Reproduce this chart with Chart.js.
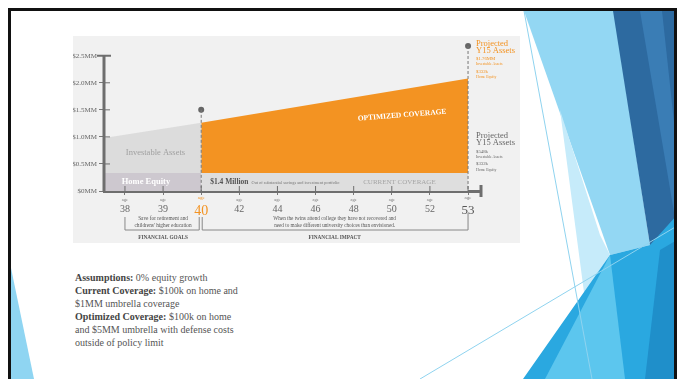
<!DOCTYPE html>
<html>
<head>
<meta charset="utf-8">
<script src="https://cdn.jsdelivr.net/npm/chart.js@4.4.0/dist/chart.umd.min.js"></script>
<style>
  html, body { margin: 0; padding: 0; background: #fff; }
  body { width: 683px; height: 379px; position: relative; overflow: hidden; font-family: "Liberation Serif", serif; }
  #deco { position: absolute; left: 0; top: 0; }
  #frame { position: absolute; left: 8px; top: 8px; width: 669px; height: 400px; border: 3px solid #111; box-sizing: border-box; }
  #panel { position: absolute; left: 73px; top: 36px; width: 447px; height: 207px; background: #f1f1f1; }
  #grafica { position: absolute; left: 73px; top: 36px; }
  #notas { position: absolute; left: 75px; top: 271px; font-size: 10px; line-height: 13px; color: #555; }
  #notas b { color: #444; }
</style>
</head>
<body>
<svg id="deco" width="683" height="379">
  <polygon points="11,268 11,379 34,379" fill="#8fd5f2"/>
  <polygon points="524,11 614,11 650,245 610,255" fill="#93d7f3"/>
  <polygon points="560,110 600,235 610,255 585,300" fill="#c6ebfa"/>
  <polygon points="613,11 677,11 677,300 650,245" fill="#2d6aa0"/>
  <polygon points="640,11 662,11 677,150 677,230" fill="#3a7db5"/>
  <polygon points="523,379 610,255 650,245 677,215 677,379" fill="#2aa8e0"/>
  <polygon points="545,379 610,255 625,379" fill="#5cc6ee"/>
  <polygon points="645,379 660,250 677,240 677,379" fill="#1f8fca"/>
  <line x1="524" y1="11" x2="592" y2="379" stroke="#8fd3ef" stroke-width="1"/>
  <line x1="420" y1="379" x2="677" y2="226" stroke="#8fd3ef" stroke-width="1"/>
</svg>
<div id="frame"></div>
<div id="panel"></div>
<canvas id="grafica" width="447" height="207"></canvas>
<div id="notas">
  <div><b>Assumptions:</b> 0% equity growth</div>
  <div><b>Current Coverage:</b> $100k on home and</div>
  <div>$1MM umbrella coverage</div>
  <div><b>Optimized Coverage:</b> $100k on home</div>
  <div>and $5MM umbrella with defense costs</div>
  <div>outside of policy limit</div>
</div>
<script>
const edades = ['38', '39', '40', '42', '44', '46', '48', '50', '52', '53'];
const inicioEje = -0.55;   // y axis sits a little left of age 38
const finEje = 9.34;
const valoresY = [0, 0.5, 1.0, 1.5, 2.0, 2.5];

const homeEquity = 0.332;              // $MM, flat
const investableAntes = [0.98, 1.26];  // total at axis start, at age 40
const optimizado = [1.26, 2.08];       // total at age 40, at age 53
const marcadores = [1.5, 2.68];        // dots at age 40 and age 53

const serif = '"Liberation Serif", "DejaVu Serif", serif';
const NARANJA = '#f39322';
const EJE = '#6e6e6e';
const i40 = edades.indexOf('40');
const i53 = edades.indexOf('53');

function texto(ctx, str, x, y, size, color, opts = {}) {
  ctx.save();
  ctx.font = `${opts.bold ? 'bold ' : ''}${size}px ${serif}`;
  ctx.fillStyle = color;
  ctx.textAlign = opts.align || 'center';
  ctx.textBaseline = 'middle';
  ctx.fillText(str, x, y);
  const w = ctx.measureText(str).width;
  ctx.restore();
  return w;
}

const anotaciones = {
  id: 'anotaciones',
  afterDraw(chart) {
    const { ctx, scales: { x, y } } = chart;
    const px = i => x.getPixelForValue(i);
    const py = v => y.getPixelForValue(v);
    const base = py(0);
    const tope = py(valoresY[valoresY.length - 1]);

    ctx.save();
    ctx.strokeStyle = EJE;
    // y axis line only up to $2.5MM, with a cap
    ctx.lineWidth = 3;
    ctx.beginPath(); ctx.moveTo(x.left, base); ctx.lineTo(x.left, tope); ctx.stroke();
    ctx.lineWidth = 2;
    ctx.beginPath(); ctx.moveTo(x.left - 7, tope); ctx.lineTo(x.left + 7, tope); ctx.stroke();
    ctx.lineWidth = 1;
    valoresY.slice(1, -1).forEach(v => {
      ctx.beginPath(); ctx.moveTo(x.left, py(v)); ctx.lineTo(x.left + 6, py(v)); ctx.stroke();
    });
    edades.forEach((e, i) => {
      ctx.beginPath(); ctx.moveTo(px(i), base); ctx.lineTo(px(i), base - 5); ctx.stroke();
    });
    // x axis end cap
    ctx.lineWidth = 3;
    ctx.beginPath(); ctx.moveTo(x.right, base - 6); ctx.lineTo(x.right, base + 6); ctx.stroke();

    // brackets
    ctx.strokeStyle = '#888';
    ctx.lineWidth = 1;
    const yb = 194, yt = 181;
    ctx.beginPath();
    ctx.moveTo(px(0), yt); ctx.lineTo(px(0), yb); ctx.lineTo(px(i40) - 2, yb); ctx.lineTo(px(i40) - 2, yt);
    ctx.moveTo(px(i40) + 1, yt); ctx.lineTo(px(i40) + 1, yb); ctx.lineTo(px(i53), yb); ctx.lineTo(px(i53), yt - 4);
    ctx.stroke();
    ctx.restore();

    // "age" above each tick label
    edades.forEach((e, i) => {
      const destacado = i === i40 || i === i53;
      texto(ctx, 'age', px(i), destacado ? 162 : 164, destacado ? 5 : 4.5, i === i40 ? NARANJA : '#777');
    });

    // labels inside the chart
    texto(ctx, 'Investable Assets', px(0.8), py(0.7), 8.5, '#a0a0a0');
    texto(ctx, 'Home Equity', px(0.55), py(homeEquity / 2), 8.5, '#ffffff', { bold: true });
    const w = texto(ctx, '$1.4 Million', px(i40) + 9, py(homeEquity / 2), 7.5, '#555', { bold: true, align: 'left' });
    texto(ctx, 'Out of substantial savings and investment portfolio', px(i40) + 12 + w, py(homeEquity / 2) + 0.5, 4.3, '#777', { align: 'left' });
    texto(ctx, 'CURRENT COVERAGE', px(7.2), py(homeEquity / 2) + 0.5, 7, '#a5a5a5');

    ctx.save();
    ctx.translate(px(7.27), py(1.4));
    ctx.rotate(-4.5 * Math.PI / 180);
    texto(ctx, 'OPTIMIZED COVERAGE', 0, 0, 7.5, '#ffffff', { bold: true });
    ctx.restore();

    // bracket captions
    texto(ctx, 'Save for retirement and', px(1), 183, 5.3, '#555');
    texto(ctx, "childrens' higher education", px(1), 190, 5.3, '#555');
    const cImpacto = (px(i40) + px(i53)) / 2;
    texto(ctx, 'When the twins attend college they have not recovered and', cImpacto, 183, 5.2, '#555');
    texto(ctx, 'need to make different university choices than envisioned.', cImpacto, 190, 5.2, '#555');
    texto(ctx, 'FINANCIAL GOALS', px(1), 202, 5.3, '#555', { bold: true });
    texto(ctx, 'FINANCIAL IMPACT', cImpacto, 202, 5.3, '#555', { bold: true });

    // projected assets, right side
    const xr = 403;
    texto(ctx, 'Projected', xr, 8, 8.5, NARANJA, { align: 'left' });
    texto(ctx, 'Y15 Assets', xr, 15, 8.5, NARANJA, { align: 'left' });
    texto(ctx, '$1.76MM', xr, 23, 4.8, NARANJA, { align: 'left' });
    texto(ctx, 'Investable Assets', xr, 28, 3.8, NARANJA, { align: 'left' });
    texto(ctx, '$332k', xr, 36, 4.8, NARANJA, { align: 'left' });
    texto(ctx, 'Home Equity', xr, 41, 3.8, NARANJA, { align: 'left' });

    texto(ctx, 'Projected', xr, 100, 8.5, '#666', { align: 'left' });
    texto(ctx, 'Y15 Assets', xr, 107, 8.5, '#666', { align: 'left' });
    texto(ctx, '$548k', xr, 116, 4.8, '#666', { align: 'left' });
    texto(ctx, 'Investable Assets', xr, 121, 3.8, '#666', { align: 'left' });
    texto(ctx, '$332k', xr, 128, 4.8, '#666', { align: 'left' });
    texto(ctx, 'Home Equity', xr, 134, 3.8, '#666', { align: 'left' });
  }
};

const area = (label, data, fill, color) => ({
  label, data, fill, backgroundColor: color, borderColor: 'transparent',
  borderWidth: 0, pointRadius: 0, tension: 0, order: 2
});

const ctx = document.getElementById('grafica').getContext('2d');
window.graficaCobertura = new Chart(ctx, {
  type: 'line',
  data: {
    datasets: [
      {
        label: 'corte 40',
        data: [{ x: i40, y: marcadores[0] }, { x: i40, y: 0 }],
        borderColor: '#777', borderWidth: 1, borderDash: [3, 2], pointRadius: 0, fill: false, order: 0
      },
      {
        label: 'corte 53',
        data: [{ x: i53, y: marcadores[1] }, { x: i53, y: 0 }],
        borderColor: '#777', borderWidth: 1, borderDash: [3, 2], pointRadius: 0, fill: false, order: 0
      },
      {
        label: 'marcadores',
        data: [{ x: i40, y: marcadores[0] }, { x: i53, y: marcadores[1] }],
        showLine: false, pointRadius: 3, pointBackgroundColor: '#666', pointBorderWidth: 0, fill: false, order: 0
      },
      area('Home Equity', [{ x: inicioEje, y: homeEquity }, { x: i40, y: homeEquity }], 'origin', '#cdc8cf'),
      area('Investable Assets', [{ x: inicioEje, y: investableAntes[0] }, { x: i40, y: investableAntes[1] }], '-1', '#dcdcdc'),
      area('Current Coverage', [{ x: i40, y: homeEquity }, { x: i53, y: homeEquity }], 'origin', '#dedede'),
      area('Optimized Coverage', [{ x: i40, y: optimizado[0] }, { x: i53, y: optimizado[1] }], '-1', NARANJA)
    ]
  },
  options: {
    responsive: false,
    animation: false,
    devicePixelRatio: 1,
    layout: { padding: { top: 4, right: 39, left: 0, bottom: 0 } },
    plugins: { legend: { display: false }, tooltip: { enabled: false } },
    scales: {
      x: {
        type: 'linear',
        min: inicioEje,
        max: finEje,
        afterFit: s => { s.height = 52; },
        afterBuildTicks: s => { s.ticks = edades.map((e, i) => ({ value: i })); },
        border: { width: 3, color: EJE },
        grid: { drawOnChartArea: false, tickLength: 4, color: '#777', lineWidth: 1 },
        ticks: {
          autoSkip: false,
          maxRotation: 0,
          padding: 8,
          callback: v => edades[v],
          color: c => c.index === i40 ? NARANJA : (c.index === i53 ? '#555' : '#666'),
          font: c => ({ family: serif, size: c.index === i40 ? 14 : (c.index === i53 ? 13 : 10) })
        }
      },
      y: {
        min: 0,
        max: 2.75,
        afterFit: s => { s.width = 31; },
        afterBuildTicks: s => { s.ticks = valoresY.map(v => ({ value: v })); },
        border: { display: false },
        grid: { drawOnChartArea: false, tickLength: 5, color: '#777', lineWidth: 1 },
        ticks: {
          padding: 2,
          color: '#666',
          font: { family: serif, size: 7 },
          callback: v => v === 0 ? '$0MM' : '$' + v.toFixed(1) + 'MM'
        }
      }
    }
  },
  plugins: [anotaciones]
});
</script>
</body>
</html>
